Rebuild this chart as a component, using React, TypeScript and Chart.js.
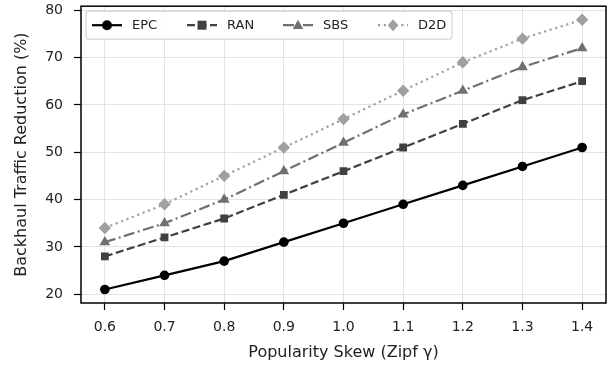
import React, { useEffect, useRef } from "react";
import { Chart, registerables } from "chart.js";

Chart.register(...registerables);

const xValues = [0.6, 0.7, 0.8, 0.9, 1.0, 1.1, 1.2, 1.3, 1.4];
const epc = [21, 24, 27, 31, 35, 39, 43, 47, 51];
const ran = [28, 32, 36, 41, 46, 51, 56, 61, 65];
const sbs = [31, 35, 40, 46, 52, 58, 63, 68, 72];
const d2d = [34, 39, 45, 51, 57, 63, 69, 74, 78];
const seriesNames = ["EPC", "RAN", "SBS", "D2D"];
const yTicks = [20, 30, 40, 50, 60, 70, 80];

const FONT = "'DejaVu Sans', sans-serif";

function drawMarker(ctx: CanvasRenderingContext2D, style: string, x: number, y: number, r: number, color: string) {
  ctx.save();
  ctx.setLineDash([]);
  ctx.fillStyle = color;
  ctx.beginPath();
  if (style === "circle") {
    ctx.arc(x, y, r, 0, Math.PI * 2);
  } else if (style === "rect") {
    ctx.rect(x - r * 0.9, y - r * 0.9, r * 1.8, r * 1.8);
  } else if (style === "triangle") {
    ctx.moveTo(x, y - r * 1.1);
    ctx.lineTo(x + r * 1.05, y + r * 0.75);
    ctx.lineTo(x - r * 1.05, y + r * 0.75);
    ctx.closePath();
  } else {
    ctx.moveTo(x, y - r * 1.2);
    ctx.lineTo(x + r * 1.05, y);
    ctx.lineTo(x, y + r * 1.2);
    ctx.lineTo(x - r * 1.05, y);
    ctx.closePath();
  }
  ctx.fill();
  ctx.restore();
}

const styles = [
  { color: "#000000", dash: [] as number[], marker: "circle" },
  { color: "#404040", dash: [8, 3.5], marker: "rect" },
  { color: "#707070", dash: [11, 3.5, 2, 3.5], marker: "triangle" },
  { color: "#a0a0a0", dash: [2.2, 3.6], marker: "rectRot" },
];

const frameAndLegend = {
  id: "frameAndLegend",
  afterDatasetsDraw(chart: any) {
    const ctx: CanvasRenderingContext2D = chart.ctx;
    const a = chart.chartArea;
    ctx.save();
    ctx.strokeStyle = "#000";
    ctx.lineWidth = 1.5;
    ctx.strokeRect(a.left, a.top, a.right - a.left, a.bottom - a.top);

    // legend
    const lx = a.left + 5, ly = a.top + 5, lw = 366, lh = 28;
    ctx.beginPath();
    const rr = 3;
    ctx.moveTo(lx + rr, ly);
    ctx.lineTo(lx + lw - rr, ly);
    ctx.quadraticCurveTo(lx + lw, ly, lx + lw, ly + rr);
    ctx.lineTo(lx + lw, ly + lh - rr);
    ctx.quadraticCurveTo(lx + lw, ly + lh, lx + lw - rr, ly + lh);
    ctx.lineTo(lx + rr, ly + lh);
    ctx.quadraticCurveTo(lx, ly + lh, lx, ly + lh - rr);
    ctx.lineTo(lx, ly + rr);
    ctx.quadraticCurveTo(lx, ly, lx + rr, ly);
    ctx.closePath();
    ctx.fillStyle = "rgba(255,255,255,0.85)";
    ctx.fill();
    ctx.strokeStyle = "#d4d4d4";
    ctx.lineWidth = 1.2;
    ctx.stroke();

    const cy = ly + lh / 2;
    const starts = [lx + 6, lx + 101, lx + 197, lx + 292];
    chart.data.datasets.forEach((ds: any, i: number) => {
      const s = styles[i];
      const x0 = starts[i];
      ctx.save();
      ctx.strokeStyle = s.color;
      ctx.lineWidth = 2.2;
      ctx.setLineDash(s.dash);
      ctx.beginPath();
      ctx.moveTo(x0, cy);
      ctx.lineTo(x0 + 30, cy);
      ctx.stroke();
      ctx.restore();
      drawMarker(ctx, s.marker, x0 + 15, cy, 5, s.color);
      ctx.fillStyle = "#222";
      ctx.font = `13px ${FONT}`;
      ctx.textBaseline = "middle";
      ctx.textAlign = "left";
      ctx.fillText(ds.label, x0 + 40, cy + 0.5);
    });
    ctx.restore();
  },
};

export default function App() {
  const ref = useRef<HTMLCanvasElement>(null);
  useEffect(() => {
    document.body.style.margin = "0";
    const seriesData = [epc, ran, sbs, d2d];
    const chart = new Chart(ref.current!, {
      type: "line",
      data: {
        datasets: seriesData.map((vals, i) => ({
          label: seriesNames[i],
          data: xValues.map((x, j) => ({ x, y: vals[j] })),
          borderColor: styles[i].color,
          backgroundColor: styles[i].color,
          borderWidth: 2.2,
          borderDash: styles[i].dash,
          pointStyle: styles[i].marker as any,
          pointRadius: i === 0 ? 4.8 : i === 1 ? 5.5 : 6.2,
          pointBorderWidth: 0,
          tension: 0,
        })),
      },
      options: {
        animation: false,
        responsive: false,
        layout: { padding: { left: 12, top: 6, right: 7, bottom: 0 } },
        plugins: { legend: { display: false }, tooltip: { enabled: false } },
        scales: {
          x: {
            type: "linear",
            min: 0.56,
            max: 1.44,
            afterBuildTicks: (s: any) => {
              s.ticks = xValues.map((v) => ({ value: v }));
            },
            afterFit: (s: any) => {
              s.height = 65;
              s.paddingLeft = 0;
              s.paddingRight = 0;
            },
            grid: { color: "#e3e3e3", lineWidth: 1, tickColor: "#000", tickLength: 7, tickWidth: 1.2 },
            border: { display: false },
            ticks: {
              color: "#222",
              font: { family: FONT, size: 14 },
              padding: 9,
              callback: (v: any) => Number(v).toFixed(1),
              maxRotation: 0,
            },
            title: {
              display: true,
              text: "Popularity Skew (Zipf γ)",
              color: "#222",
              font: { family: FONT, size: 16 },
              padding: { top: 4, bottom: 6 },
            },
          },
          y: {
            type: "linear",
            min: 18.15,
            max: 80.85,
            afterBuildTicks: (s: any) => {
              s.ticks = yTicks.map((v) => ({ value: v }));
            },
            afterFit: (s: any) => {
              s.width = 69;
              s.paddingTop = 0;
              s.paddingBottom = 0;
            },
            grid: { color: "#e3e3e3", lineWidth: 1, tickColor: "#000", tickLength: 7, tickWidth: 1.2 },
            border: { display: false },
            ticks: {
              color: "#222",
              font: { family: FONT, size: 14 },
              padding: 11,
              callback: (v: any) => String(v),
            },
            title: {
              display: true,
              text: "Backhaul Traffic Reduction (%)",
              color: "#222",
              font: { family: FONT, size: 16 },
              padding: { top: 0, bottom: 0 },
            },
          },
        },
      },
      plugins: [frameAndLegend],
    });
    return () => chart.destroy();
  }, []);
  return <canvas ref={ref} width={613} height={368} style={{ display: "block" }} />;
}
